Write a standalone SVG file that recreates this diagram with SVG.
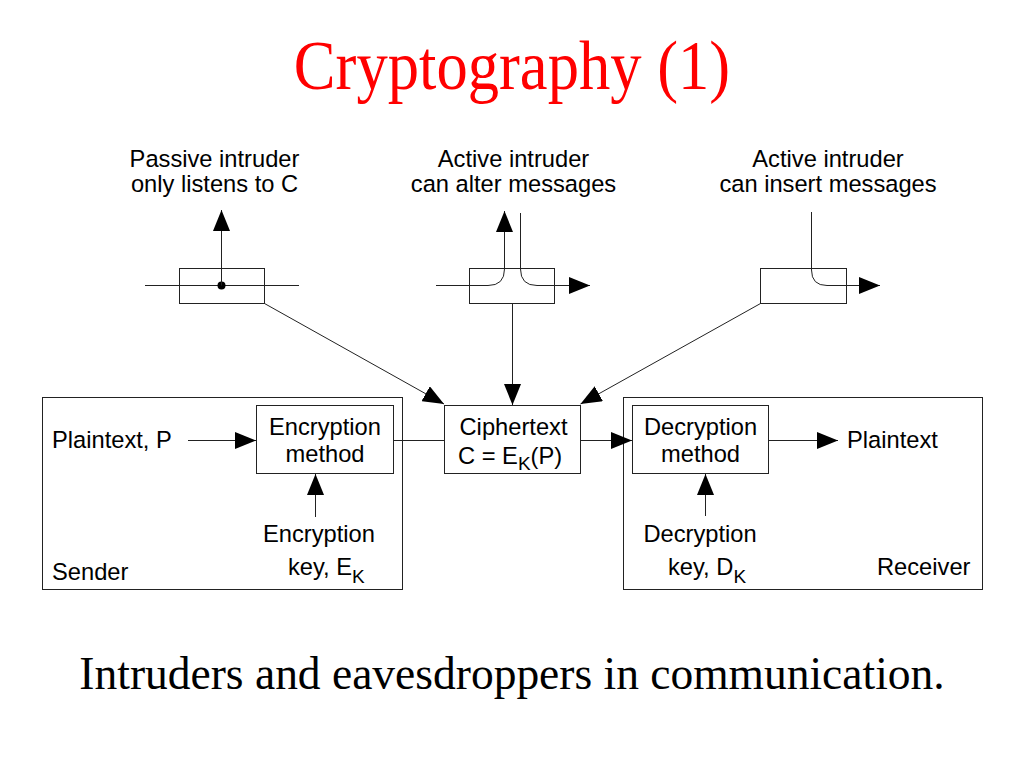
<svg xmlns="http://www.w3.org/2000/svg" width="1024" height="768" viewBox="0 0 1024 768">
<style>
  .sans { font-family: "Liberation Sans", Arial, sans-serif; font-size: 23.7px; fill: #000; }
  .sub { font-size: 19px; }
  .serif { font-family: "Liberation Serif", "Times New Roman", serif; }
  .box { fill: none; stroke: #222; stroke-width: 1; }
  .ln { fill: none; stroke: #222; stroke-width: 1; }
  .arr { fill: none; stroke: #222; stroke-width: 1; marker-end: url(#ah); }
</style>
<defs>
  <marker id="ah" markerUnits="userSpaceOnUse" markerWidth="21" markerHeight="17" refX="21" refY="8.5" orient="auto">
    <path d="M0,0 L21,8.5 L0,17 z" fill="#000"/>
  </marker>
</defs>
<rect x="0" y="0" width="1024" height="768" fill="#fff"/>

<text class="serif" transform="translate(512,89) scale(1,1.1)" text-anchor="middle" font-size="62.6" fill="#ff0000">Cryptography (1)</text>

<g id="passive-intruder">
  <text class="sans" text-anchor="middle" x="214.5" y="167">Passive intruder</text>
  <text class="sans" text-anchor="middle" x="214.5" y="192">only listens to C</text>
  <rect class="box" x="179.5" y="268.5" width="85" height="35"/>
  <line class="ln" x1="145" y1="285.5" x2="299" y2="285.5"/>
  <circle cx="221.5" cy="285.5" r="4" fill="#000"/>
  <line class="arr" x1="221.5" y1="285.5" x2="221.5" y2="210"/>
</g>

<g id="active-alter">
  <text class="sans" text-anchor="middle" x="513.5" y="167">Active intruder</text>
  <text class="sans" text-anchor="middle" x="513.5" y="192">can alter messages</text>
  <rect class="box" x="469.5" y="268.5" width="85" height="35"/>
  <path class="arr" d="M436,285.5 H488 Q504.5,285.5 504.5,269 V211"/>
  <path class="arr" d="M520.5,213 V269 Q520.5,285.5 537,285.5 H590"/>
</g>

<g id="active-insert">
  <text class="sans" text-anchor="middle" x="828" y="167">Active intruder</text>
  <text class="sans" text-anchor="middle" x="828" y="192">can insert messages</text>
  <rect class="box" x="760.5" y="268.5" width="86" height="35"/>
  <path class="arr" d="M811.5,212 V270 Q811.5,285.5 827,285.5 H880"/>
</g>

<g id="sender">
  <rect class="box" x="42.5" y="397.5" width="360" height="192"/>
  <text class="sans" x="52" y="580">Sender</text>
  <text class="sans" x="52" y="448">Plaintext, P</text>
</g>

<g id="encryption-method">
  <rect class="box" x="256.5" y="405.5" width="137" height="68"/>
  <text class="sans" text-anchor="middle" x="325" y="435">Encryption</text>
  <text class="sans" text-anchor="middle" x="325" y="462">method</text>
</g>

<g id="encryption-key">
  <text class="sans" text-anchor="middle" x="319" y="541.5">Encryption</text>
  <text class="sans" x="288" y="575">key, E<tspan class="sub" dy="8">K</tspan></text>
</g>

<g id="ciphertext">
  <rect class="box" x="444.5" y="405.5" width="136" height="68"/>
  <text class="sans" text-anchor="middle" x="513.5" y="435">Ciphertext</text>
  <text class="sans" x="458" y="464">C = E<tspan class="sub" dy="6">K</tspan><tspan dy="-6">(P)</tspan></text>
</g>

<g id="receiver">
  <rect class="box" x="623.5" y="397.5" width="359" height="192"/>
  <text class="sans" x="877" y="575">Receiver</text>
  <text class="sans" x="847" y="448">Plaintext</text>
</g>

<g id="decryption-method">
  <rect class="box" x="632.5" y="405.5" width="136" height="68"/>
  <text class="sans" text-anchor="middle" x="700.5" y="435">Decryption</text>
  <text class="sans" text-anchor="middle" x="700.5" y="462">method</text>
</g>

<g id="decryption-key">
  <text class="sans" text-anchor="middle" x="700" y="541.5">Decryption</text>
  <text class="sans" x="668" y="575">key, D<tspan class="sub" dy="8">K</tspan></text>
</g>

<g id="connectors">
  <line class="arr" x1="188" y1="440.5" x2="256" y2="440.5"/>
  <line class="arr" x1="315.5" y1="517" x2="315.5" y2="474"/>
  <line class="ln" x1="393.5" y1="440.5" x2="444.5" y2="440.5"/>
  <line class="arr" x1="580.5" y1="440.5" x2="632" y2="440.5"/>
  <line class="arr" x1="768.5" y1="440.5" x2="838" y2="440.5"/>
  <line class="arr" x1="705.5" y1="516" x2="705.5" y2="474"/>
  <line class="arr" x1="264.5" y1="303.5" x2="444" y2="404"/>
  <line class="arr" x1="512.5" y1="303.5" x2="512.5" y2="405"/>
  <line class="arr" x1="760.5" y1="303.5" x2="580.5" y2="404"/>
</g>

<text class="serif" transform="translate(512,689) scale(1,1.04)" text-anchor="middle" font-size="45.5" fill="#000">Intruders and eavesdroppers in communication.</text>
</svg>
